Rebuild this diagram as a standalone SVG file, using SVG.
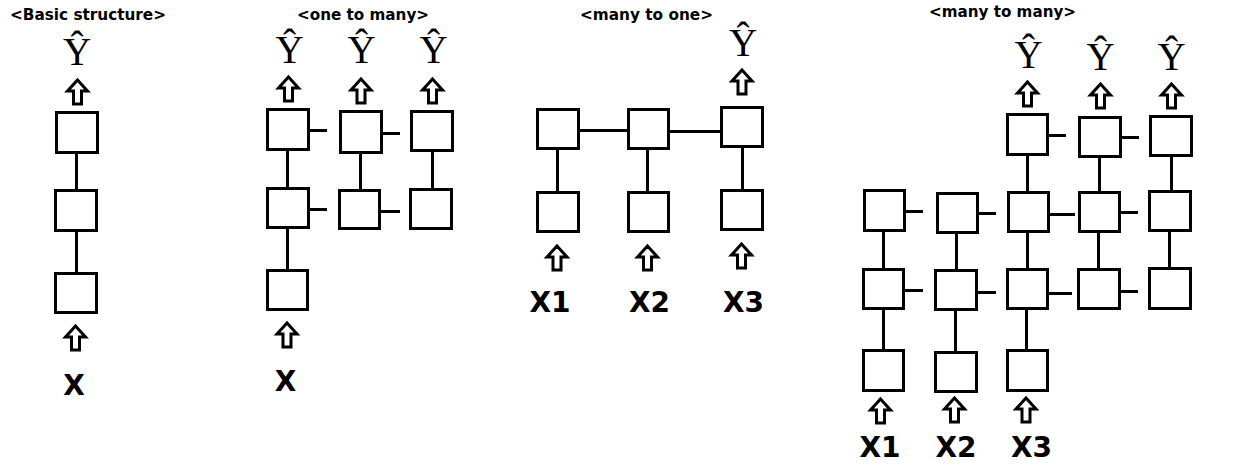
<svg xmlns="http://www.w3.org/2000/svg" width="1237" height="470" viewBox="0 0 1237 470">
<style>
.bx{fill:#fff;stroke:#000;stroke-width:3}
.ln{stroke:#000;stroke-width:3;fill:none}
.ttl{font-family:"DejaVu Sans",Verdana,sans-serif;font-weight:bold;font-size:16px;fill:#000}
.yh{font-family:"Liberation Serif","Times New Roman",serif;font-size:39px;fill:#000;text-anchor:middle}
.xl{font-family:"DejaVu Sans",Verdana,sans-serif;font-weight:bold;font-size:28px;fill:#000;text-anchor:middle}
</style>
<defs>
<path id="arr" d="M0,0 L10,11 L4,11 L4,24 L-4,24 L-4,11 L-10,11 Z" fill="#fff" stroke="#000" stroke-width="3" stroke-linejoin="miter"/>
</defs>
<rect width="1237" height="470" fill="#fff"/>
<g id="titles">
<text class="ttl" x="10" y="20" textLength="156" lengthAdjust="spacingAndGlyphs">&lt;Basic structure&gt;</text>
<text class="ttl" x="297" y="20" textLength="132" lengthAdjust="spacingAndGlyphs">&lt;one to many&gt;</text>
<text class="ttl" x="580" y="20" textLength="133" lengthAdjust="spacingAndGlyphs">&lt;many to one&gt;</text>
<text class="ttl" x="929" y="17" textLength="147" lengthAdjust="spacingAndGlyphs">&lt;many to many&gt;</text>
</g>
<g id="connectors">
<path class="ln" d="M76.5,154V189M76.5,232V272"/>
<path class="ln" d="M287.5,151V187M287.5,229V269M360.5,154V189M432.5,152V188M310,130.5H327M383,133.5H400M310,209.5H327M381,211.5H400"/>
<path class="ln" d="M580,130.5H627M670,131.5H720M557.5,150V191M647.5,150V191M742.5,148V189"/>
<path class="ln" d="M1027.5,156V191M1099.5,158V191M1171.5,157V190M883.5,232V268M956.5,234V269M1027.5,233V268M1098.5,233V268M1169.5,232V267M883.5,310V349M955.5,311V351M1026.5,310V349"/>
<path class="ln" d="M1049,135.5H1066M1122,137.5H1139M906,211.5H923M979,213.5H996M1050,214.5H1075M1121,212.5H1138M905,290.5H923M978,292.5H996M1049,293.5H1072M1121,291.5H1138"/>
<g id="block-arrows">
<use href="#arr" x="77.5" y="80"/>
<use href="#arr" x="75.5" y="326"/>
<use href="#arr" x="288.5" y="77"/>
<use href="#arr" x="361" y="79"/>
<use href="#arr" x="432.5" y="79"/>
<use href="#arr" x="287" y="323"/>
<use href="#arr" x="742" y="70"/>
<use href="#arr" x="557" y="246"/>
<use href="#arr" x="647.5" y="246"/>
<use href="#arr" x="741.5" y="244"/>
<use href="#arr" x="1027.5" y="82"/>
<use href="#arr" x="1100.5" y="84"/>
<use href="#arr" x="1171.5" y="84"/>
<use href="#arr" x="880.5" y="399"/>
<use href="#arr" x="954.5" y="398"/>
<use href="#arr" x="1026" y="398"/>
</g>
</g>
<g id="basic">
<g id="b-h1"><rect class="bx" x="56.5" y="112.5" width="41" height="40"/></g>
<g id="b-h2"><rect class="bx" x="55.5" y="190.5" width="41" height="40"/></g>
<g id="b-h3"><rect class="bx" x="55.5" y="273.5" width="41" height="39"/></g>
<g id="b-y"><text class="yh" x="77" y="65">Ŷ</text></g>
<g id="b-x"><text class="xl" x="74" y="395" font-size="30">X</text></g>
</g>
<g id="one-to-many">
<g id="o-a1"><rect class="bx" x="267.5" y="109.5" width="41" height="40"/></g>
<g id="o-b1"><rect class="bx" x="340.5" y="111.5" width="41" height="41"/></g>
<g id="o-c1"><rect class="bx" x="411.5" y="111.5" width="41" height="39"/></g>
<g id="o-a2"><rect class="bx" x="267.5" y="188.5" width="41" height="39"/></g>
<g id="o-b2"><rect class="bx" x="339.5" y="190.5" width="40" height="38"/></g>
<g id="o-c2"><rect class="bx" x="410.5" y="189.5" width="41" height="39"/></g>
<g id="o-a3"><rect class="bx" x="267.5" y="270.5" width="40" height="39"/></g>
<g id="o-y1"><text class="yh" x="289.5" y="63">Ŷ</text></g>
<g id="o-y2"><text class="yh" x="361.5" y="63">Ŷ</text></g>
<g id="o-y3"><text class="yh" x="433.5" y="63">Ŷ</text></g>
<g id="o-x"><text class="xl" x="285.5" y="391" font-size="27">X</text></g>
</g>
<g id="many-to-one">
<g id="m1-a1"><rect class="bx" x="537.5" y="109.5" width="41" height="39"/></g>
<g id="m1-b1"><rect class="bx" x="628.5" y="109.5" width="40" height="39"/></g>
<g id="m1-c1"><rect class="bx" x="721.5" y="107.5" width="41" height="39"/></g>
<g id="m1-a2"><rect class="bx" x="537.5" y="192.5" width="41" height="39"/></g>
<g id="m1-b2"><rect class="bx" x="628.5" y="192.5" width="40" height="39"/></g>
<g id="m1-c2"><rect class="bx" x="721.5" y="190.5" width="41" height="39"/></g>
<g id="m1-y"><text class="yh" x="743" y="56">Ŷ</text></g>
<g id="m1-x1"><text class="xl" x="550" y="312" font-size="27">X1</text></g>
<g id="m1-x2"><text class="xl" x="649.5" y="312" font-size="27">X2</text></g>
<g id="m1-x3"><text class="xl" x="743.5" y="312" font-size="27">X3</text></g>
</g>
<g id="many-to-many">
<g id="mm-c1"><rect class="bx" x="1007.5" y="114.5" width="40" height="40"/></g>
<g id="mm-d1"><rect class="bx" x="1079.5" y="117.5" width="41" height="39"/></g>
<g id="mm-e1"><rect class="bx" x="1150.5" y="116.5" width="41" height="39"/></g>
<g id="mm-a2"><rect class="bx" x="864.5" y="190.5" width="40" height="40"/></g>
<g id="mm-b2"><rect class="bx" x="937.5" y="193.5" width="40" height="39"/></g>
<g id="mm-c2"><rect class="bx" x="1008.5" y="192.5" width="40" height="39"/></g>
<g id="mm-d2"><rect class="bx" x="1079.5" y="192.5" width="40" height="39"/></g>
<g id="mm-e2"><rect class="bx" x="1149.5" y="191.5" width="41" height="39"/></g>
<g id="mm-a3"><rect class="bx" x="863.5" y="269.5" width="40" height="39"/></g>
<g id="mm-b3"><rect class="bx" x="935.5" y="270.5" width="41" height="39"/></g>
<g id="mm-c3"><rect class="bx" x="1007.5" y="269.5" width="40" height="39"/></g>
<g id="mm-d3"><rect class="bx" x="1078.5" y="269.5" width="41" height="39"/></g>
<g id="mm-e3"><rect class="bx" x="1149.5" y="268.5" width="41" height="40"/></g>
<g id="mm-a4"><rect class="bx" x="863.5" y="350.5" width="40" height="40"/></g>
<g id="mm-b4"><rect class="bx" x="935.5" y="352.5" width="41" height="39"/></g>
<g id="mm-c4"><rect class="bx" x="1007.5" y="350.5" width="40" height="40"/></g>
<g id="mm-y3"><text class="yh" x="1028.5" y="68">Ŷ</text></g>
<g id="mm-y4"><text class="yh" x="1100.5" y="70">Ŷ</text></g>
<g id="mm-y5"><text class="yh" x="1171.5" y="70">Ŷ</text></g>
<g id="mm-x1"><text class="xl" x="880" y="457" font-size="27">X1</text></g>
<g id="mm-x2"><text class="xl" x="956" y="457" font-size="27">X2</text></g>
<g id="mm-x3"><text class="xl" x="1031.5" y="457" font-size="27">X3</text></g>
</g>
</svg>
